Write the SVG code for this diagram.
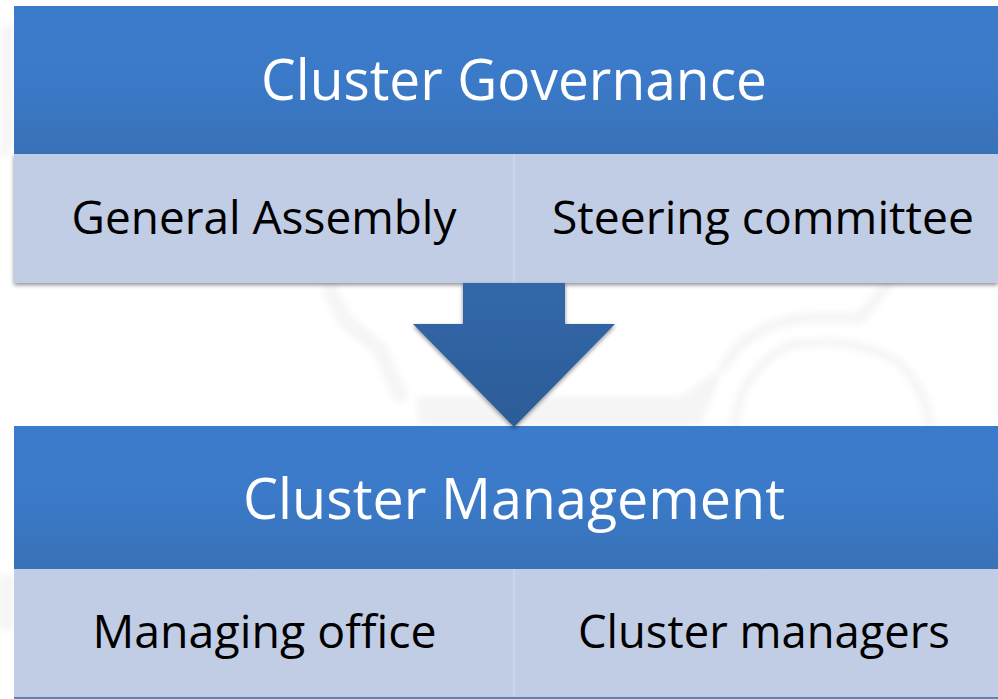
<svg xmlns="http://www.w3.org/2000/svg" width="998" height="699" viewBox="0 0 998 699">
<style>
.t{font-family:"Open Sans","Noto Sans","Liberation Sans",sans-serif;text-anchor:middle}
.h{font-size:57px;fill:#fff}
.s{font-size:46px;fill:#000}
.hb{fill:url(#hg)}
.sb{fill:#c0cde4}
.d{stroke:#cfd9ea;stroke-width:1.5}
.wm{fill:none;stroke:#f6f6f6;stroke-linecap:round;stroke-linejoin:round}
</style>
<defs>
<linearGradient id="hg" x1="0" y1="0" x2="0" y2="1"><stop offset="0" stop-color="#3b7bcb"/><stop offset="0.5" stop-color="#3b7ac8"/><stop offset="1" stop-color="#3871b8"/></linearGradient>
<linearGradient id="ag" x1="0" y1="0" x2="0" y2="1"><stop offset="0" stop-color="#3268aa"/><stop offset="1" stop-color="#2c5c97"/></linearGradient>
<filter id="sh" x="-5%" y="-5%" width="110%" height="115%"><feGaussianBlur in="SourceAlpha" stdDeviation="2"/><feOffset dx="0" dy="2"/><feComponentTransfer><feFuncA type="linear" slope="0.45"/></feComponentTransfer><feMerge><feMergeNode/><feMergeNode in="SourceGraphic"/></feMerge></filter>
<filter id="soft"><feGaussianBlur stdDeviation="3"/></filter>
</defs>
<rect width="998" height="699" fill="#fff"/>
<g id="watermark" filter="url(#soft)">
<path class="wm" stroke-width="16" d="M330 290 L345 320 L380 350 L400 395"/>
<path d="M415 397 H680 L725 365 L700 426 H420 Z" fill="#f5f5f5"/>
<path class="wm" stroke-width="12" d="M725 365 Q750 322 810 318 H860 L888 285"/>
<path class="wm" stroke-width="10" d="M735 425 Q740 370 790 345 Q850 335 895 360 Q925 385 930 425"/>
<path d="M0 575 H14 V630 H0 Z" fill="#f5f5f5"/>
<path d="M0 30 L14 20 V150 L0 160 Z" fill="#f6f6f6"/>
</g>
<g id="cluster-governance">
<rect class="sb" x="14" y="154" width="984" height="129" filter="url(#sh)"/>
<rect class="hb" x="14" y="6" width="984" height="148"/>
<line class="d" x1="514" y1="154" x2="514" y2="283"/>
<text class="t h" x="514" y="100" textLength="506" lengthAdjust="spacingAndGlyphs">Cluster Governance</text>
</g>
<g id="general-assembly"><text class="t s" x="264" y="234" textLength="385" lengthAdjust="spacingAndGlyphs">General Assembly</text></g>
<g id="steering-committee"><text class="t s" x="763" y="234" textLength="422" lengthAdjust="spacingAndGlyphs">Steering committee</text></g>
<g id="cluster-management">
<rect class="sb" x="14" y="569" width="984" height="129"/>
<rect class="hb" x="14" y="426" width="984" height="143"/>
<line class="d" x1="514" y1="569" x2="514" y2="698"/>
<line x1="14" y1="698" x2="998" y2="698" stroke="#2f62a3" stroke-width="1.5"/>
<text class="t h" x="514" y="519" textLength="542" lengthAdjust="spacingAndGlyphs">Cluster Management</text>
</g>
<g id="managing-office"><text class="t s" x="264.500" y="648" textLength="344" lengthAdjust="spacingAndGlyphs">Managing office</text></g>
<g id="cluster-managers"><text class="t s" x="764" y="648" textLength="372" lengthAdjust="spacingAndGlyphs">Cluster managers</text></g>
<g id="connectors">
<path d="M463 283 H565 V324 H615 L514 427 L413 324 H463 Z" fill="url(#ag)" filter="url(#sh)"/>
</g>
</svg>
